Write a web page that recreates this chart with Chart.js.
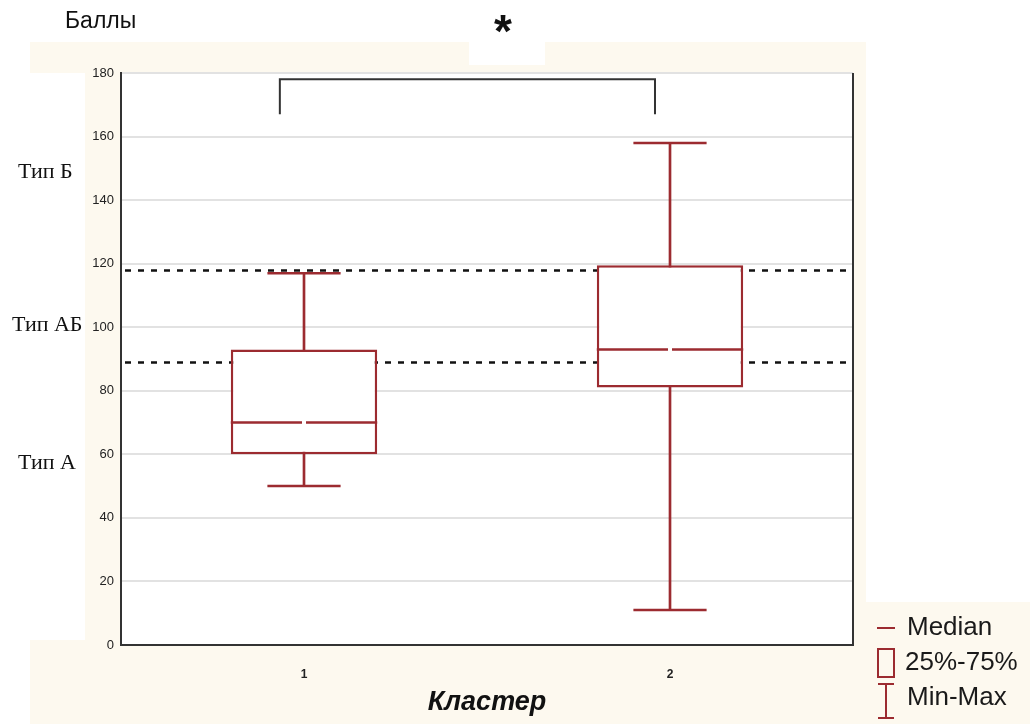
<!DOCTYPE html>
<html lang="ru">
<head>
    <meta charset="UTF-8">
    <title>Баллы по кластерам</title>
    <script src="https://cdn.jsdelivr.net/npm/chart.js"></script>
    <style>
        html, body { margin: 0; padding: 0; background: #ffffff; }
        .chart-box { width: 1032px; height: 724px; position: relative; }
    </style>
</head>
<body>
<div class="chart-box">
    <canvas id="boxChart"></canvas>
</div>
<script>
    // данные (читаются с картинки)
    const clusters = ['1', '2'];
    const minVals = [50, 11];
    const q1Vals = [60, 81];
    const medians = [70, 93];
    const q3Vals = [93, 119.5];
    const maxVals = [117, 158];
    const typeBorders = [89, 118];          // пунктирные границы типов
    const typeLabels = ['Тип Б', 'Тип АБ', 'Тип А'];
    const bracketX = [-0.066, 0.959];       // скобка значимости (в единицах категорий)
    const bracketY = [178, 167];
    const legendLabels = ['Median', '25%-75%', 'Min-Max'];

    const RED = '#9c2b30';
    const CREAM = '#fdf9ef';

    // фон картинки: кремовые поля как в Statistica
    const backgroundPlugin = {
        id: 'bg',
        beforeDraw(chart) {
            const ctx = chart.ctx;
            ctx.save();
            ctx.fillStyle = '#ffffff';
            ctx.fillRect(0, 0, chart.width, chart.height);
            ctx.fillStyle = CREAM;
            ctx.fillRect(30, 42, 836, 682);
            ctx.fillRect(866, 602, 164, 122);
            ctx.fillStyle = '#ffffff';
            ctx.fillRect(30, 73, 55, 567);
            ctx.fillRect(469, 42, 76, 23);
            const a = chart.chartArea;
            ctx.fillRect(a.left, a.top, a.right - a.left, a.bottom - a.top);
            ctx.restore();
        }
    };

    // пунктирные линии под боксами
    const dashPlugin = {
        id: 'dashes',
        beforeDatasetsDraw(chart) {
            const ctx = chart.ctx, a = chart.chartArea, y = chart.scales.y;
            ctx.save();
            ctx.strokeStyle = '#111';
            ctx.lineWidth = 2.5;
            ctx.setLineDash([6, 7]);
            typeBorders.forEach(v => {
                const py = Math.round(y.getPixelForValue(v)) + 0.5;
                ctx.beginPath();
                ctx.moveTo(a.left + 4, py);
                ctx.lineTo(a.right, py);
                ctx.stroke();
            });
            ctx.restore();
        }
    };

    // усы, медиана, скобка, рамка, подписи, легенда
    const extrasPlugin = {
        id: 'extras',
        afterDatasetsDraw(chart) {
            const ctx = chart.ctx, a = chart.chartArea;
            const x = chart.scales.x, y = chart.scales.y;
            const boxes = chart.getDatasetMeta(0).data;
            ctx.save();
            ctx.strokeStyle = RED;
            ctx.lineWidth = 2.5;
            clusters.forEach((c, i) => {
                const cx = x.getPixelForValue(i);
                const half = boxes[i].width / 2;
                // колпачки
                [minVals[i], maxVals[i]].forEach(v => {
                    const py = y.getPixelForValue(v);
                    ctx.beginPath();
                    ctx.moveTo(cx - half / 2, py);
                    ctx.lineTo(cx + half / 2, py);
                    ctx.stroke();
                });
                // медиана с разрывом в центре
                const my = y.getPixelForValue(medians[i]);
                ctx.beginPath();
                ctx.moveTo(cx - half, my);
                ctx.lineTo(cx - 2, my);
                ctx.moveTo(cx + 2, my);
                ctx.lineTo(cx + half, my);
                ctx.stroke();
            });

            // скобка значимости
            ctx.strokeStyle = '#333';
            ctx.lineWidth = 2;
            const bx1 = x.getPixelForValue(bracketX[0]);
            const bx2 = x.getPixelForValue(bracketX[1]);
            const by1 = y.getPixelForValue(bracketY[0]);
            const by2 = y.getPixelForValue(bracketY[1]);
            ctx.beginPath();
            ctx.moveTo(bx1, by2);
            ctx.lineTo(bx1, by1);
            ctx.lineTo(bx2, by1);
            ctx.lineTo(bx2, by2);
            ctx.stroke();

            // правая рамка
            ctx.strokeStyle = '#333';
            ctx.lineWidth = 2;
            ctx.beginPath();
            ctx.moveTo(a.right, a.top);
            ctx.lineTo(a.right, a.bottom);
            ctx.stroke();

            // тексты
            ctx.fillStyle = '#111';
            ctx.textBaseline = 'middle';
            ctx.textAlign = 'center';
            ctx.font = 'bold 46px "Liberation Sans", Arial';
            ctx.fillText('*', 503, 34);

            ctx.textAlign = 'left';
            ctx.font = '23px "Liberation Sans", Arial';
            ctx.fillText('Баллы', 65, 22);

            ctx.font = '22px "Liberation Serif", "Times New Roman"';
            ctx.fillText(typeLabels[0], 18, 172);
            ctx.fillText(typeLabels[1], 12, 325);
            ctx.fillText(typeLabels[2], 18, 463);

            ctx.textAlign = 'center';
            ctx.font = 'italic bold 27px "Liberation Sans", Arial';
            ctx.fillText('Кластер', (a.left + a.right) / 2, 703);

            // легенда
            ctx.textAlign = 'left';
            ctx.font = '26px "Liberation Sans", Arial';
            ctx.fillStyle = '#1a1a1a';
            ctx.fillText(legendLabels[0], 907, 628);
            ctx.fillText(legendLabels[1], 905, 663);
            ctx.fillText(legendLabels[2], 907, 698);
            ctx.strokeStyle = RED;
            ctx.lineWidth = 2;
            ctx.beginPath();
            ctx.moveTo(877, 628); ctx.lineTo(895, 628);
            ctx.stroke();
            ctx.strokeRect(878, 649, 16, 28);
            ctx.beginPath();
            ctx.moveTo(878, 684); ctx.lineTo(894, 684);
            ctx.moveTo(886, 684); ctx.lineTo(886, 718);
            ctx.moveTo(878, 718); ctx.lineTo(894, 718);
            ctx.stroke();
            ctx.restore();
        }
    };

    const canvas = document.getElementById('boxChart');
    new Chart(canvas.getContext('2d'), {
        type: 'bar',
        data: {
            labels: clusters,
            datasets: [
                {
                    label: '25%-75%',
                    data: clusters.map((c, i) => [q1Vals[i], q3Vals[i]]),
                    backgroundColor: '#ffffff',
                    borderColor: RED,
                    borderWidth: 2.5,
                    borderSkipped: false,
                    barPercentage: 0.4,
                    categoryPercentage: 1,
                    grouped: false,
                    order: 0
                },
                {
                    label: 'Min-Max',
                    data: clusters.map((c, i) => [minVals[i], maxVals[i]]),
                    backgroundColor: RED,
                    borderWidth: 0,
                    barThickness: 2,
                    grouped: false,
                    order: 1
                }
            ]
        },
        options: {
            responsive: true,
            maintainAspectRatio: false,
            animation: false,
            layout: { padding: { left: 85, right: 179, top: 73, bottom: 0 } },
            plugins: {
                legend: { display: false },
                tooltip: { enabled: false }
            },
            scales: {
                x: {
                    afterFit: s => { s.height = 79; },
                    grid: { display: false },
                    border: { color: '#333', width: 2 },
                    ticks: {
                        color: '#222',
                        font: { family: '"Liberation Sans", Arial', size: 12, weight: 'bold' },
                        padding: 14
                    }
                },
                y: {
                    min: 0,
                    max: 180,
                    afterFit: s => { s.width = 36; },
                    grid: { color: '#e2e2e2', lineWidth: 2, drawTicks: false },
                    border: { color: '#333', width: 2 },
                    ticks: {
                        stepSize: 20,
                        color: '#222',
                        font: { family: '"Liberation Sans", Arial', size: 13 },
                        padding: 7
                    }
                }
            }
        },
        plugins: [backgroundPlugin, dashPlugin, extrasPlugin]
    });
</script>
</body>
</html>
